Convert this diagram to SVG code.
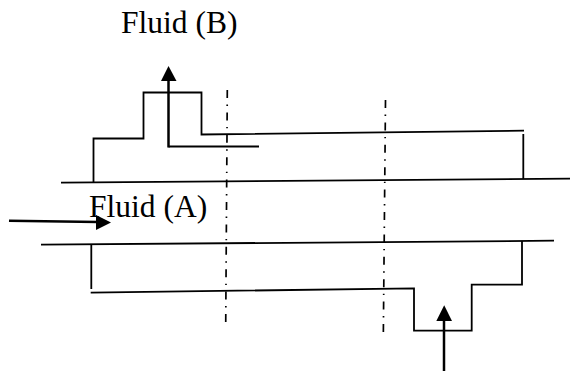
<svg xmlns="http://www.w3.org/2000/svg" width="570" height="371" viewBox="0 0 570 371">
<defs><style>
.l{fill:none;stroke:#000;stroke-width:1.8}
.a{fill:none;stroke:#000;stroke-width:2.5}
.c{fill:none;stroke:#000;stroke-width:1.7;stroke-dasharray:8 6.5 1.4 6.5}
.h{fill:#000}
.t{font-family:"Liberation Serif","Times New Roman",serif;font-size:31.5px;fill:#000}
</style></defs>
<rect width="570" height="371" fill="#fff"/>
<g id="tube">
<path class="l" d="M61 182.7L570 178.7"/>
<path class="l" d="M41 244.7L554 240.7"/>
</g>
<g id="shell">
<path class="l" d="M93.5 182.5V138.5H143.5V92.5H201.5V134.5L524 130.7M523.3 134V179"/>
<path class="l" d="M91.3 245V289M90.7 292.7L414 288.3V330.7H471.7V284.7H522V241"/>
</g>
<g id="section-lines">
<path class="c" d="M227.3 90L225.7 328"/>
<path class="c" d="M385.5 100L383.3 338"/>
</g>
<g id="connectors">
<path class="l" d="M259 146.5H168.5"/>
<path class="a" d="M168.5 147.5V78"/>
<polygon class="h" points="168.5,66 161,81 176.5,81"/>
<path class="a" d="M9 220.8L98 222"/>
<polygon class="h" points="111,222.4 96,215 96,230"/>
<path class="a" d="M444 371V318"/>
<polygon class="h" points="444.2,305.3 436.3,321 452,321"/>
</g>
<g id="label-b"><text class="t" x="121" y="33">Fluid (B)</text></g>
<g id="label-a"><text class="t" x="89" y="217">Fluid (A)</text></g>
</svg>
